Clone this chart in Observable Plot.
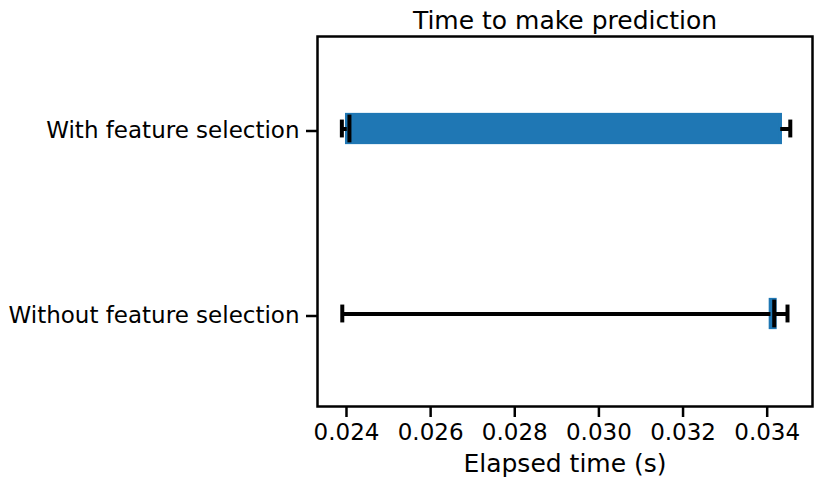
<!DOCTYPE html>
<html><head><meta charset="utf-8">
<script src="https://cdn.jsdelivr.net/npm/d3@7"></script>
<script src="https://cdn.jsdelivr.net/npm/@observablehq/plot@0.6"></script>
<style>body{margin:0;background:#fff;}</style>
</head><body><div id="chart"></div>
<script>
// Box plot of score time (pandas plot.box, vert=False)
const categories = ["Without feature selection", "With feature selection"];
const positions = [1, 2];
const whiskerLow = [0.02390, 0.02389];
const q1 = [0.034089, 0.024018];
const median = [0.034167, 0.02407];
const q3 = [0.034196, 0.034322];
const whiskerHigh = [0.034483, 0.034549];
const xTicks = [0.024, 0.026, 0.028, 0.030, 0.032, 0.034];
const title = "Time to make prediction";
const xLabel = "Elapsed time (s)";

const rows = categories.map((c, i) => ({
  cat: c, pos: positions[i], lo: whiskerLow[i], q1: q1[i],
  med: median[i], q3: q3[i], hi: whiskerHigh[i]
}));
const boxHalf = 0.075, capHalf = 0.0375;
const C0 = "#1f77b4";

const chart = Plot.plot({
  width: 822, height: 486,
  marginLeft: 317, marginRight: 10, marginTop: 36, marginBottom: 80,
  style: {fontFamily: "DejaVu Sans", fontSize: "23px", background: "white", color: "black"},
  x: {domain: [0.023311, 0.035077]},
  y: {domain: [0.5, 2.5]},
  marks: [
    Plot.rect(rows, {x1: "q1", x2: "q3", y1: d => d.pos - boxHalf, y2: d => d.pos + boxHalf,
      fill: C0, stroke: C0, strokeWidth: 3.5}),
    Plot.ruleY(rows, {y: "pos", x1: "lo", x2: "q1", stroke: "black", strokeWidth: 4}),
    Plot.ruleY(rows, {y: "pos", x1: "q3", x2: "hi", stroke: "black", strokeWidth: 4}),
    Plot.ruleX(rows, {x: "lo", y1: d => d.pos - capHalf, y2: d => d.pos + capHalf,
      stroke: "black", strokeWidth: 4, strokeLinecap: "square"}),
    Plot.ruleX(rows, {x: "hi", y1: d => d.pos - capHalf, y2: d => d.pos + capHalf,
      stroke: "black", strokeWidth: 4, strokeLinecap: "square"}),
    Plot.ruleX(rows, {x: "med", y1: d => d.pos - boxHalf, y2: d => d.pos + boxHalf,
      stroke: "black", strokeWidth: 4}),
    Plot.axisX({ticks: xTicks, tickFormat: d3.format(".3f"), tickSize: 11, tickPadding: 6,
      strokeWidth: 2.5, fontSize: 23, label: null}),
    Plot.axisY({ticks: positions, tickFormat: d => categories[positions.indexOf(d)],
      tickSize: 11, tickPadding: 7, strokeWidth: 2.5, fontSize: 23, label: null, dy: 2}),
    Plot.frame({stroke: "black", strokeWidth: 2.5}),
    Plot.text([title], {text: d => d, frameAnchor: "top", dy: -16, lineAnchor: "middle", fontSize: 25}),
    Plot.text([xLabel], {text: d => d, frameAnchor: "bottom", dy: 57, lineAnchor: "middle", fontSize: 25})
  ]
});
document.getElementById("chart").appendChild(chart);
</script>
</body></html>
